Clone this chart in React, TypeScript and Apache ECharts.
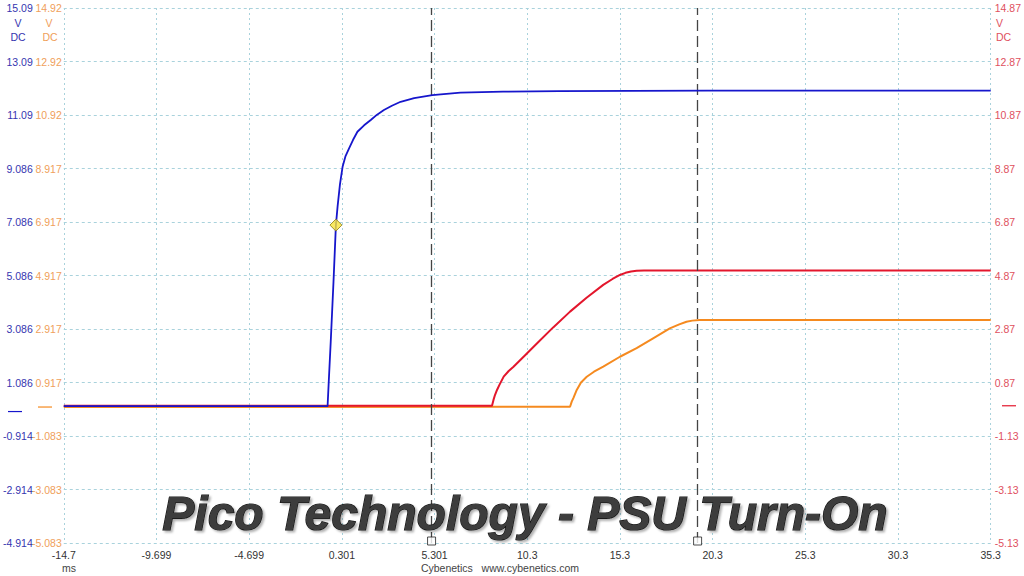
import React, { useEffect, useRef } from "react";
import * as echarts from "echarts";

// Time axis (ms)
const xMin = -14.699;
const xMax = 35.301;
const xStep = 5;

// Y axis offsets (value shown at bottom of each axis), 20 V span, 2 V step
const blueBottom = -4.914;
const orangeBottom = -5.083;
const redBottom = -5.13;
const ySpan = 20;
const yStep = 2;

// Blue channel (V DC)
const blueT = [-14.699, -5, -0.47, -0.4, -0.3, -0.15, -0.02, 0.07, 0.2, 0.34, 0.5, 0.69, 0.9, 1.14, 1.5, 1.86, 2.2, 2.57, 3.0, 3.47, 4.2, 5.18, 6.7, 9, 12, 20, 35.301];
const blueV = [0.2, 0.2, 0.2, 1.2, 2.6, 4.85, 6.97, 7.66, 8.5, 9.15, 9.55, 9.84, 10.15, 10.46, 10.7, 10.9, 11.1, 11.27, 11.43, 11.58, 11.72, 11.83, 11.92, 11.96, 11.98, 12.0, 12.0];

// Orange channel
const orangeT = [-14.699, 12.61, 12.7, 12.8, 12.97, 13.2, 13.51, 13.9, 14.4, 15.3, 16.2, 17.09, 17.99, 18.5, 18.89, 19.2, 19.6, 35.301];
const orangeV = [0, 0.01, 0.2, 0.35, 0.64, 0.92, 1.13, 1.32, 1.51, 1.88, 2.2, 2.57, 2.94, 3.09, 3.19, 3.23, 3.25, 3.25];

// Red channel
const redT = [-14.699, 8.4, 8.48, 8.56, 8.67, 8.8, 9.03, 9.3, 9.56, 10.2, 10.82, 11.7, 12.61, 13.5, 14.4, 14.9, 15.3, 15.6, 15.9, 16.2, 16.6, 17, 35.301];
const redV = [0, 0, 0.22, 0.4, 0.59, 0.78, 1.09, 1.3, 1.46, 1.9, 2.33, 2.93, 3.52, 4.04, 4.52, 4.74, 4.89, 4.97, 5.02, 5.05, 5.06, 5.06, 5.06];

// Trigger marker on blue channel
const markerT = [-0.02];
const markerV = [6.97];

// Cursors (ms)
const cursorT = [5.14, 19.49];

const BLUE = "#1616cc";
const ORANGE = "#f58a1f";
const RED = "#e3162c";
const FONT = "'Liberation Sans', Arial, sans-serif";
const FS = 10.5;

const fmt = (v: number) => String(parseFloat(v.toPrecision(4)));

const toPts = (ts: number[], vs: number[], bottom: number) =>
  ts.map((t, i) => [t - xMin, vs[i] - bottom]);

export default function App() {
  const ref = useRef<HTMLDivElement>(null);

  useEffect(() => {
    if (!ref.current) return;
    const chart = echarts.init(ref.current, undefined, { renderer: "svg" });

    const gridLine = { show: true, lineStyle: { color: "#a9d2dc", type: [3, 3] as any, width: 1 } };

    chart.setOption({
      animation: false,
      backgroundColor: "#ffffff",
      grid: { left: 62, right: 32, top: 8, bottom: 33, containLabel: false },
      xAxis: {
        type: "value",
        min: 0,
        max: xMax - xMin,
        interval: xStep,
        axisLine: { show: false },
        axisTick: { show: false },
        axisLabel: { formatter: (v: number) => fmt(v + xMin), color: "#333", fontSize: FS, fontFamily: FONT, margin: 6 },
        splitLine: { show: true, lineStyle: { color: "#a9d2dc", type: [2, 3] as any, width: 1 } },
      },
      yAxis: [
        {
          type: "value", position: "left", offset: 27, min: 0, max: ySpan, interval: yStep,
          axisLine: { show: false }, axisTick: { show: false },
          axisLabel: { formatter: (v: number) => fmt(v + blueBottom), color: "#3535b0", fontSize: FS, fontFamily: FONT, margin: 4 },
          splitLine: gridLine,
        },
        {
          type: "value", position: "left", offset: 0, min: 0, max: ySpan, interval: yStep,
          axisLine: { show: false }, axisTick: { show: false },
          axisLabel: { formatter: (v: number) => fmt(v + orangeBottom), color: "#f0a05a", fontSize: FS, fontFamily: FONT, margin: 2 },
          splitLine: { show: false },
        },
        {
          type: "value", position: "right", offset: 0, min: 0, max: ySpan, interval: yStep,
          axisLine: { show: false }, axisTick: { show: false },
          axisLabel: { formatter: (v: number) => fmt(v + redBottom), color: "#e0505e", fontSize: FS, fontFamily: FONT, margin: 4 },
          splitLine: { show: false },
        },
      ],
      series: [
        {
          type: "line", yAxisIndex: 1, data: toPts(orangeT, orangeV, orangeBottom),
          showSymbol: false, lineStyle: { color: ORANGE, width: 2 }, z: 3,
        },
        {
          type: "line", yAxisIndex: 2, data: toPts(redT, redV, redBottom),
          showSymbol: false, lineStyle: { color: RED, width: 2 }, z: 4,
        },
        {
          type: "line", yAxisIndex: 0, data: toPts(blueT, blueV, blueBottom),
          showSymbol: false, lineStyle: { color: BLUE, width: 1.8 }, z: 5,
          markLine: {
            silent: true, symbol: "none", label: { show: false },
            lineStyle: { color: "#444", type: [11, 5] as any, width: 1.3 },
            data: cursorT.map((t) => ({ xAxis: t - xMin })),
          },
        },
        {
          type: "scatter", yAxisIndex: 0, data: cursorT.map((t) => [t - xMin, 0]),
          symbol: "rect", symbolSize: 8, symbolOffset: [0, -2], clip: false,
          itemStyle: { color: "#fff", borderColor: "#222", borderWidth: 1 }, z: 6,
        },
        {
          type: "scatter", yAxisIndex: 0, data: toPts(markerT, markerV, blueBottom),
          symbol: "diamond", symbolSize: 12,
          itemStyle: { color: "#f7e43a", borderColor: "#8a7a10", borderWidth: 1 }, z: 7,
        },
      ],
    });

    const yBlue0 = chart.convertToPixel({ yAxisIndex: 0 }, 0 - blueBottom) as number;
    const yOr0 = chart.convertToPixel({ yAxisIndex: 1 }, 0 - orangeBottom) as number;
    const yRed0 = chart.convertToPixel({ yAxisIndex: 2 }, 0 - redBottom) as number;

    const unit = (x: number, y: number, t: string, c: string, align: string) => ({
      type: "text", x, y,
      style: { text: t, fill: c, fontSize: FS, fontFamily: FONT, align, verticalAlign: "middle" },
    });

    chart.setOption({
      graphic: [
        { type: "line", shape: { x1: 8, y1: yBlue0, x2: 22, y2: yBlue0 }, style: { stroke: BLUE, lineWidth: 1.2 } },
        { type: "line", shape: { x1: 38, y1: yOr0, x2: 52, y2: yOr0 }, style: { stroke: ORANGE, lineWidth: 1.2 } },
        { type: "line", shape: { x1: 1002, y1: yRed0, x2: 1016, y2: yRed0 }, style: { stroke: RED, lineWidth: 1.2 } },
        unit(18, 23, "V", "#3535b0", "center"),
        unit(18, 37, "DC", "#3535b0", "center"),
        unit(49, 23, "V", "#f0a05a", "center"),
        unit(50, 37, "DC", "#f0a05a", "center"),
        unit(996, 23, "V", "#e0505e", "left"),
        unit(996, 37, "DC", "#e0505e", "left"),
        unit(62, 568, "ms", "#444", "left"),
        unit(500, 568, "Cybenetics   www.cybenetics.com", "#444", "center"),
        {
          type: "text", x: 525, y: 513, z: 100,
          style: {
            text: "Pico Technology - PSU Turn-On",
            fontSize: 48, fontWeight: "bold", fontStyle: "italic",
            fontFamily: "'Liberation Sans', Arial, sans-serif",
            align: "center", verticalAlign: "middle",
            fill: "#3c3c3c",
            stroke: "#111111", lineWidth: 1.2,
            textShadowColor: "rgba(0,0,0,0.3)", textShadowBlur: 2, textShadowOffsetX: 2, textShadowOffsetY: 2,
          },
        },
      ],
    });

    return () => chart.dispose();
  }, []);

  return <div ref={ref} style={{ position: "absolute", left: 0, top: 0, width: 1024, height: 576 }} />;
}
